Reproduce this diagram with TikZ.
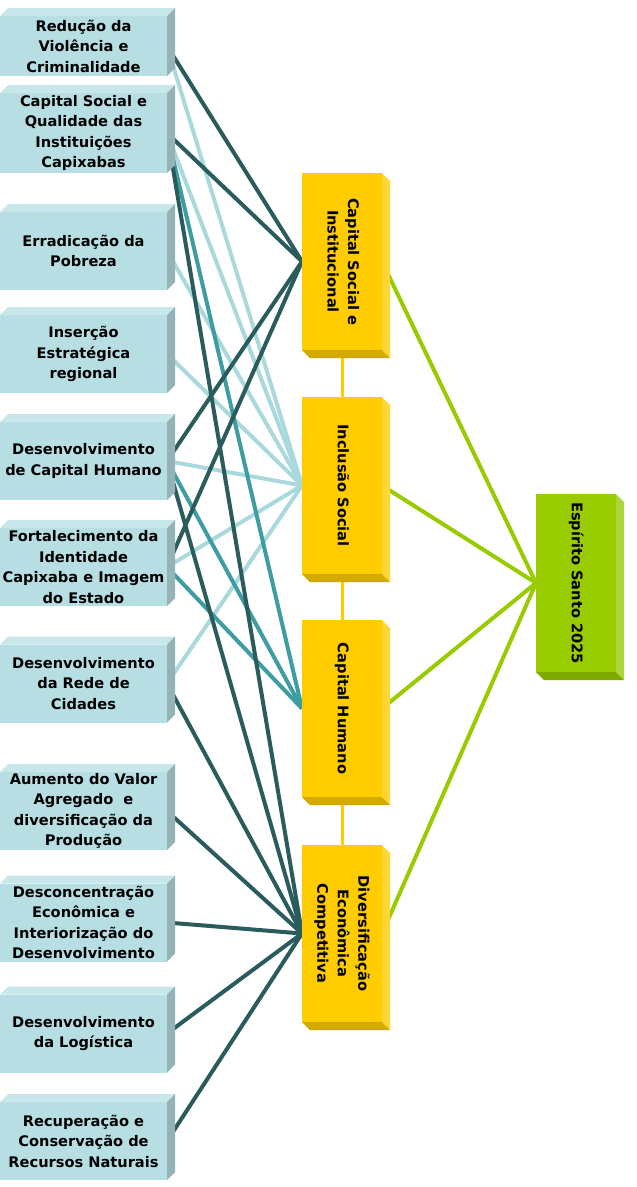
\documentclass[tikz,border=0pt]{standalone}
\usepackage{fontspec}
\usepackage{graphicx}
\usepackage{tikz}
\usetikzlibrary{backgrounds}
\setmainfont{DejaVu Sans}

\definecolor{goalfront}{HTML}{B7DEE2}
\definecolor{goaltop}{HTML}{C8E7EA}
\definecolor{goalside}{HTML}{93B3B6}
\definecolor{axisfront}{HTML}{FFCC00}
\definecolor{axisside}{HTML}{FFD633}
\definecolor{axisbottom}{HTML}{D4AA00}
\definecolor{visionfront}{HTML}{99CC00}
\definecolor{visionside}{HTML}{ADD63C}
\definecolor{visionbottom}{HTML}{7FAA00}
\definecolor{linedark}{HTML}{2A5C5E}
\definecolor{linemid}{HTML}{3E9DA2}
\definecolor{linelight}{HTML}{AAD9DD}

\newcommand{\diagfont}{\bfseries\fontsize{14.6}{20.5}\selectfont}
\newcommand{\vtext}[1]{\rotatebox{-90}{\begin{tabular}{@{}c@{}}#1\end{tabular}}}

\begin{document}
\begin{tikzpicture}[x=1pt,y=-1pt,
    every node/.style={font=\diagfont,align=center,inner sep=0pt,outer sep=0pt},
    goal/.style={fill=goalfront,minimum width=167pt,minimum height=78pt,anchor=west},
    axis/.style={fill=axisfront,minimum width=80pt,minimum height=177pt},
    vision/.style={fill=visionfront,minimum width=80pt,minimum height=178pt},
    dark/.style={draw=linedark,line width=4pt},
    mid/.style={draw=linemid,line width=4pt},
    light/.style={draw=linelight,line width=4pt},
    toward/.style={draw=visionfront,line width=4pt},
    chain/.style={draw=axisfront,line width=3pt}]
  \useasboundingbox (0,0) rectangle (637,1187);

  % objetivos
  \node[goal,minimum height=60pt] (violencia) at (0,46) {Redução da\\Violência e\\Criminalidade};
  \node[goal,minimum height=80pt] (instituicoes) at (0,133) {Capital Social e\\Qualidade das\\Instituições\\Capixabas};
  \node[goal] (pobreza) at (0,251) {Erradicação da\\Pobreza};
  \node[goal] (insercao) at (0,354) {Inserção\\Estratégica\\regional};
  \node[goal] (humano) at (0,461) {Desenvolvimento\\de Capital Humano};
  \node[goal] (identidade) at (0,567) {Fortalecimento da\\Identidade\\Capixaba e Imagem\\do Estado};
  \node[goal] (cidades) at (0,683.5) {Desenvolvimento\\da Rede de\\Cidades};
  \node[goal] (valor) at (0,811) {Aumento do Valor\\Agregado~ e\\diversificação da\\Produção};
  \node[goal] (interior) at (0,922.5) {Desconcentração\\Econômica e\\Interiorização do\\Desenvolvimento};
  \node[goal] (logistica) at (0,1033.5) {Desenvolvimento\\da Logística};
  \node[goal] (recursos) at (0,1141) {Recuperação e\\Conservação de\\Recursos Naturais};

  % eixos
  \node[axis] (csi) at (342,261.5) {\vtext{Capital Social e\\Institucional}};
  \node[axis] (inclusao) at (342,485.5) {\vtext{Inclusão Social}};
  \node[axis] (caphum) at (342,708.5) {\vtext{Capital Humano}};
  \node[axis] (divers) at (342,933.5) {\vtext{Diversificação\\Econômica\\Competitiva}};

  % visao
  \node[vision] (es) at (576,583) {\vtext{Espírito Santo 2025}};

  \foreach \g in {violencia,instituicoes,pobreza,insercao,humano,identidade,cidades,valor,interior,logistica,recursos}{
    \fill[goaltop] (\g.north west) -- ++(8,-8) -- ([shift={(8,-8)}]\g.north east) -- (\g.north east) -- cycle;
    \fill[goalside] (\g.north east) -- ++(8,-8) -- ([shift={(8,-8)}]\g.south east) -- (\g.south east) -- cycle;
  }
  \foreach \a/\s/\b in {csi/axisside/axisbottom,inclusao/axisside/axisbottom,caphum/axisside/axisbottom,divers/axisside/axisbottom,es/visionside/visionbottom}{
    \fill[\s] (\a.north east) -- ++(8,8) -- ([shift={(8,8)}]\a.south east) -- (\a.south east) -- cycle;
    \fill[\b] (\a.south west) -- ++(8,8) -- ([shift={(8,8)}]\a.south east) -- (\a.south east) -- cycle;
  }

  \begin{scope}[on background layer]
    \fill[white] (0,0) rectangle (637,1187);
    \foreach \g in {violencia,instituicoes,pobreza,insercao,humano,identidade,cidades}
      \draw[light] (\g.east) -- (inclusao.west);
    \foreach \g in {instituicoes,humano,identidade}
      \draw[mid] (\g.east) -- (caphum.west);
    \foreach \g in {violencia,instituicoes,humano,identidade}
      \draw[dark] (\g.east) -- (csi.west);
    \foreach \g in {instituicoes,humano,cidades,valor,interior,logistica,recursos}
      \draw[dark] (\g.east) -- (divers.west);
    \foreach \a in {csi,inclusao,caphum,divers}
      \draw[toward] (\a.east) -- (es.west);
    \draw[chain] (csi.south) -- (inclusao.north);
    \draw[chain] (inclusao.south) -- (caphum.north);
    \draw[chain] (caphum.south) -- (divers.north);
  \end{scope}
\end{tikzpicture}
\end{document}
